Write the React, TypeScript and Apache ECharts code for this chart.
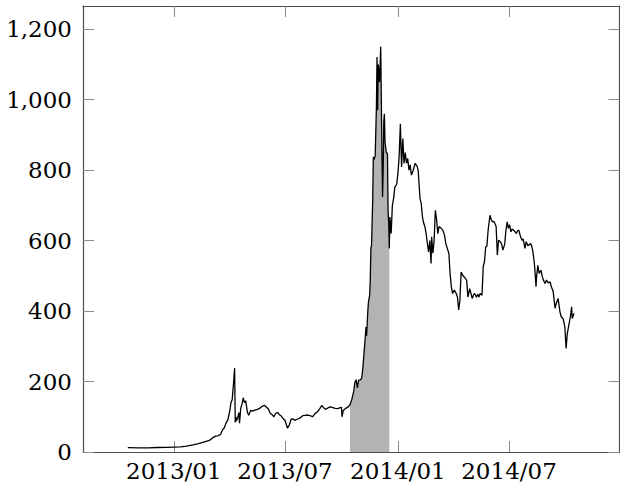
import React, { useEffect, useRef } from "react";
import * as echarts from "echarts";

// Daily-ish closing prices (USD)
const prices2012: [string, number][] = [
  ["2012-10-18", 12.5], ["2012-11-05", 11.5], ["2012-11-20", 11.8], ["2012-12-05", 12.8], ["2012-12-20", 13.4],
];

const prices2013: [string, number][] = [
  ["2013-01-01", 14], ["2013-01-12", 14.5], ["2013-01-22", 16.5], ["2013-02-01", 20], ["2013-02-10", 24],
  ["2013-02-20", 29], ["2013-02-28", 33], ["2013-03-05", 40], ["2013-03-10", 45], ["2013-03-14", 46],
  ["2013-03-18", 50], ["2013-03-21", 62], ["2013-03-24", 68], ["2013-03-27", 82], ["2013-03-30", 92],
  ["2013-04-02", 115], ["2013-04-04", 140], ["2013-04-06", 148], ["2013-04-08", 190], ["2013-04-10", 238],
  ["2013-04-11", 84], ["2013-04-12", 100], ["2013-04-13", 88], ["2013-04-15", 98], ["2013-04-17", 112],
  ["2013-04-18", 82], ["2013-04-20", 125], ["2013-04-22", 135], ["2013-04-24", 154], ["2013-04-26", 140],
  ["2013-04-28", 145], ["2013-05-01", 112], ["2013-05-03", 104], ["2013-05-06", 118], ["2013-05-09", 116],
  ["2013-05-13", 119], ["2013-05-17", 121], ["2013-05-21", 124], ["2013-05-25", 130], ["2013-05-29", 132],
  ["2013-06-01", 127], ["2013-06-04", 122], ["2013-06-07", 110], ["2013-06-10", 106], ["2013-06-13", 100],
  ["2013-06-16", 110], ["2013-06-19", 112], ["2013-06-22", 106], ["2013-06-25", 102], ["2013-06-28", 95],
  ["2013-07-01", 90], ["2013-07-05", 68], ["2013-07-08", 76], ["2013-07-11", 93], ["2013-07-14", 94],
  ["2013-07-17", 90], ["2013-07-21", 93], ["2013-07-25", 96], ["2013-07-30", 103], ["2013-08-03", 104],
  ["2013-08-07", 105], ["2013-08-11", 103], ["2013-08-15", 100], ["2013-08-19", 109], ["2013-08-23", 114],
  ["2013-08-27", 124], ["2013-08-30", 132], ["2013-09-02", 126], ["2013-09-05", 121], ["2013-09-09", 125],
  ["2013-09-13", 128], ["2013-09-17", 126], ["2013-09-21", 124], ["2013-09-25", 123], ["2013-09-29", 126],
  ["2013-10-01", 127], ["2013-10-02", 100], ["2013-10-04", 118], ["2013-10-08", 124], ["2013-10-12", 128],
  ["2013-10-15", 134], ["2013-10-18", 150], ["2013-10-21", 172], ["2013-10-23", 198], ["2013-10-25", 205],
  ["2013-10-27", 182], ["2013-10-29", 204], ["2013-11-01", 205], ["2013-11-03", 210], ["2013-11-05", 240],
  ["2013-11-07", 285], ["2013-11-09", 330], ["2013-11-10", 355], ["2013-11-11", 330], ["2013-11-13", 400],
  ["2013-11-14", 425], ["2013-11-16", 445], ["2013-11-17", 490], ["2013-11-18", 580], ["2013-11-19", 585],
  ["2013-11-21", 720], ["2013-11-22", 838], ["2013-11-23", 830], ["2013-11-25", 840], ["2013-11-27", 980],
  ["2013-11-28", 1121], ["2013-11-29", 970], ["2013-11-30", 1100], ["2013-12-02", 1050], ["2013-12-04", 1150],
  ["2013-12-05", 1000], ["2013-12-06", 850], ["2013-12-07", 724], ["2013-12-08", 800], ["2013-12-09", 937],
  ["2013-12-10", 960], ["2013-12-11", 880], ["2013-12-12", 866], ["2013-12-13", 850], ["2013-12-15", 847],
  ["2013-12-16", 686], ["2013-12-17", 650], ["2013-12-18", 578], ["2013-12-19", 667], ["2013-12-21", 620],
  ["2013-12-23", 700], ["2013-12-25", 720], ["2013-12-27", 752], ["2013-12-30", 760],
];

const prices2014: [string, number][] = [
  ["2014-01-01", 790], ["2014-01-03", 838], ["2014-01-05", 932], ["2014-01-06", 870], ["2014-01-07", 809],
  ["2014-01-09", 890], ["2014-01-11", 819], ["2014-01-13", 850], ["2014-01-15", 820], ["2014-01-17", 833],
  ["2014-01-19", 800], ["2014-01-21", 815], ["2014-01-23", 786], ["2014-01-26", 800], ["2014-01-29", 819],
  ["2014-02-01", 812], ["2014-02-03", 800], ["2014-02-06", 720], ["2014-02-08", 705], ["2014-02-10", 667],
  ["2014-02-12", 650], ["2014-02-14", 639], ["2014-02-16", 620], ["2014-02-18", 592], ["2014-02-20", 568],
  ["2014-02-22", 600], ["2014-02-24", 535], ["2014-02-25", 611], ["2014-02-27", 564], ["2014-03-01", 600],
  ["2014-03-03", 686], ["2014-03-05", 660], ["2014-03-07", 620], ["2014-03-09", 640], ["2014-03-12", 636],
  ["2014-03-15", 630], ["2014-03-18", 615], ["2014-03-20", 592], ["2014-03-23", 575], ["2014-03-25", 564],
  ["2014-03-27", 507], ["2014-03-29", 470], ["2014-03-31", 450], ["2014-04-03", 460], ["2014-04-06", 450],
  ["2014-04-08", 440], ["2014-04-10", 403], ["2014-04-12", 430], ["2014-04-14", 511], ["2014-04-17", 500],
  ["2014-04-19", 497], ["2014-04-21", 492], ["2014-04-23", 488], ["2014-04-25", 440], ["2014-04-28", 464],
  ["2014-05-02", 436], ["2014-05-04", 445], ["2014-05-06", 450], ["2014-05-09", 439], ["2014-05-11", 448],
  ["2014-05-13", 440], ["2014-05-15", 450], ["2014-05-18", 445], ["2014-05-20", 526], ["2014-05-22", 540],
  ["2014-05-24", 582], ["2014-05-26", 585], ["2014-05-28", 630], ["2014-05-31", 672], ["2014-06-02", 660],
  ["2014-06-04", 653], ["2014-06-06", 655], ["2014-06-08", 649], ["2014-06-10", 640], ["2014-06-12", 559],
  ["2014-06-14", 601], ["2014-06-17", 597], ["2014-06-19", 590], ["2014-06-21", 573], ["2014-06-24", 590],
  ["2014-06-26", 630], ["2014-06-28", 653], ["2014-06-30", 635], ["2014-07-02", 645], ["2014-07-04", 625],
  ["2014-07-06", 633], ["2014-07-08", 630], ["2014-07-11", 625], ["2014-07-13", 620], ["2014-07-15", 628],
  ["2014-07-17", 630], ["2014-07-19", 616], ["2014-07-22", 601], ["2014-07-24", 605], ["2014-07-27", 578],
  ["2014-07-29", 597], ["2014-08-01", 585], ["2014-08-02", 587], ["2014-08-05", 592], ["2014-08-07", 585],
  ["2014-08-09", 568], ["2014-08-11", 540], ["2014-08-12", 521], ["2014-08-14", 469], ["2014-08-15", 500],
  ["2014-08-17", 530], ["2014-08-19", 507], ["2014-08-22", 516], ["2014-08-24", 500], ["2014-08-26", 488],
  ["2014-08-29", 478], ["2014-08-31", 488], ["2014-09-03", 480], ["2014-09-06", 483], ["2014-09-08", 469],
  ["2014-09-11", 455], ["2014-09-14", 408], ["2014-09-16", 422], ["2014-09-19", 436], ["2014-09-22", 398],
  ["2014-09-24", 384], ["2014-09-27", 379], ["2014-09-30", 355], ["2014-10-02", 294], ["2014-10-04", 337],
  ["2014-10-07", 365], ["2014-10-09", 384], ["2014-10-11", 412], ["2014-10-12", 379], ["2014-10-15", 394],
];

const xTickLabels = ["2013/01", "2013/07", "2014/01", "2014/07"];
const yTickValues = [0, 200, 400, 600, 800, 1000, 1200];
const shadeStart = "2013-10-15";
const shadeEnd = "2013-12-18";
const xMin = "2012-08-06";
const xMax = "2014-12-28";
const yMax = 1266;

function ts(s: string): number {
  const p = s.split(/[-\/]/).map(Number);
  return Date.UTC(p[0], p[1] - 1, p[2] || 1);
}

const FONT = "DejaVu Serif";

export default function App() {
  const ref = useRef<HTMLDivElement>(null);
  useEffect(() => {
    if (!ref.current) return;
    const chart = echarts.init(ref.current, undefined, { renderer: "svg" });
    const all = [...prices2012, ...prices2013, ...prices2014];
    const lineData = all.map(([d, v]) => [ts(d), v]);
    const s0 = ts(shadeStart);
    const s1 = ts(shadeEnd);
    const shadeData = lineData.filter(([t]) => t >= s0 && t <= s1);
    const xTicks = xTickLabels.map(ts);
    const axisLineStyle = { color: "#4d4d4d", width: 1.2 };
    const tickStyle = { color: "#8a8a8a", width: 1 };
    const fmtDate = (v: number) => {
      const d = new Date(v);
      return `${d.getUTCFullYear()}/${String(d.getUTCMonth() + 1).padStart(2, "0")}`;
    };
    chart.setOption({
      animation: false,
      backgroundColor: "#fff",
      grid: { left: 83, right: 0.5, top: 6, bottom: 36, containLabel: false },
      xAxis: [
        {
          type: "value",
          position: "bottom",
          min: ts(xMin),
          max: ts(xMax),
          axisLine: { show: true, onZero: false, lineStyle: axisLineStyle },
          axisTick: { show: true, inside: true, length: 11, lineStyle: tickStyle, customValues: xTicks },
          axisLabel: {
            show: true,
            customValues: xTicks,
            formatter: fmtDate,
            color: "#000",
            fontFamily: FONT,
            fontSize: 23,
            margin: 7,
          },
          splitLine: { show: false },
        },
        {
          type: "value",
          position: "top",
          min: ts(xMin),
          max: ts(xMax),
          axisLine: { show: true, onZero: false, lineStyle: axisLineStyle },
          axisTick: { show: true, inside: true, length: 11, lineStyle: tickStyle, customValues: xTicks },
          axisLabel: { show: false },
          splitLine: { show: false },
        },
      ],
      yAxis: [
        {
          type: "value",
          position: "left",
          min: 0,
          max: yMax,
          interval: 200,
          axisLine: { show: true, onZero: false, lineStyle: axisLineStyle },
          axisTick: { show: true, inside: true, length: 11, lineStyle: tickStyle, customValues: yTickValues },
          axisLabel: {
            show: true,
            customValues: yTickValues,
            formatter: (v: number) => (v % 200 === 0 ? v.toLocaleString("en-US") : ""),
            color: "#000",
            fontFamily: FONT,
            fontSize: 23,
            margin: 11,
          },
          splitLine: { show: false },
        },
        {
          type: "value",
          position: "right",
          min: 0,
          max: yMax,
          interval: 200,
          axisLine: { show: true, onZero: false, lineStyle: axisLineStyle },
          axisTick: { show: true, inside: true, length: 11, lineStyle: tickStyle, customValues: yTickValues },
          axisLabel: { show: false },
          splitLine: { show: false },
        },
      ],
      series: [
        {
          type: "line",
          data: shadeData,
          xAxisIndex: 0,
          yAxisIndex: 0,
          showSymbol: false,
          symbol: "none",
          lineStyle: { width: 0, opacity: 0 },
          areaStyle: { color: "#b3b3b3", opacity: 1 },
          z: 2,
          silent: true,
        },
        {
          type: "line",
          data: lineData,
          xAxisIndex: 0,
          yAxisIndex: 0,
          showSymbol: false,
          symbol: "none",
          lineStyle: { color: "#000", width: 1.3 },
          z: 3,
          silent: true,
        },
      ],
    });
    return () => chart.dispose();
  }, []);
  return (
    <div
      ref={ref}
      style={{ position: "fixed", left: 0, top: 0, width: 620, height: 488, background: "#fff" }}
    />
  );
}
